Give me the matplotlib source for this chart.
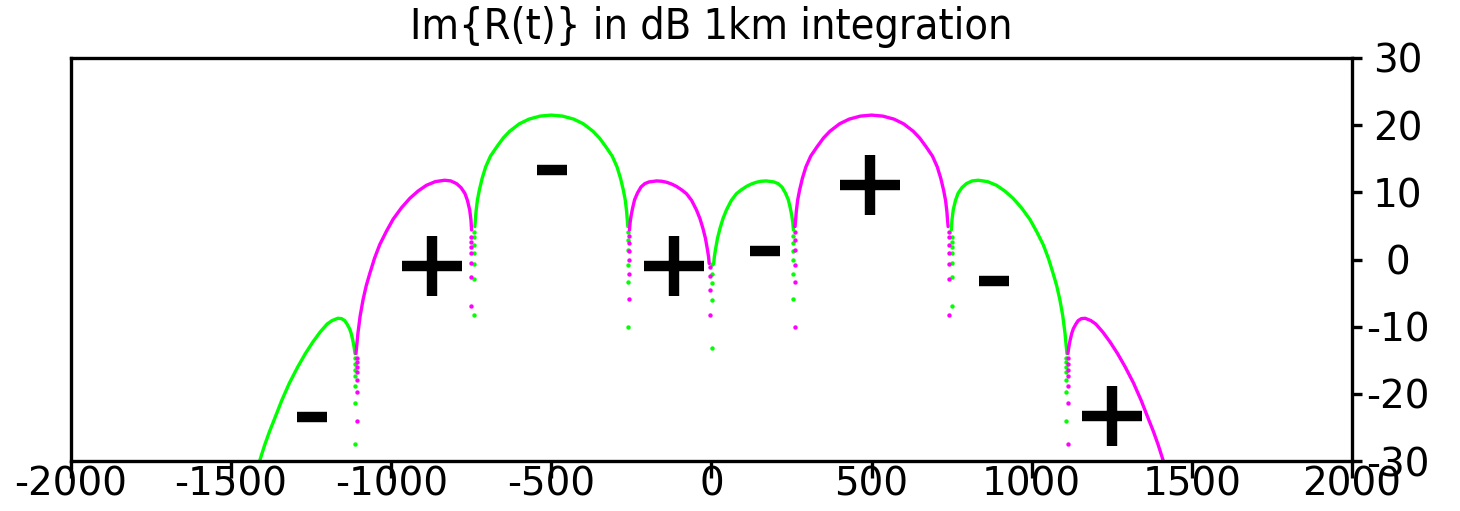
import matplotlib
matplotlib.use("Agg")
import matplotlib.pyplot as plt

plt.rcParams["axes.unicode_minus"] = False

GREEN = "#00ff00"
MAGENTA = "#ff00ff"

# Lobes of the curve (x, dB)
green_lobes = [
    ([-1411, -1395, -1380, -1360, -1342, -1318, -1292, -1268, -1245, -1222, -1200,
      -1185, -1167, -1155, -1145, -1138, -1130, -1125, -1120, -1116, -1113],
     [-30.0, -27.6, -25.6, -23.2, -21.0, -18.4, -16.0, -14.0, -12.3, -10.8, -9.6,
      -9.1, -8.75, -8.8, -9.1, -9.6, -10.3, -11.0, -12.0, -13.0, -14.0]),
    ([-739, -737, -735, -731, -725, -716, -705, -690, -670, -650, -630, -600, -570,
      -535, -500, -465, -430, -400, -370, -350, -330, -310, -295, -284, -275, -269,
      -265, -263, -261],
     [4.9, 6.0, 7.2, 8.8, 10.3, 12.1, 13.8, 15.4, 16.8, 18.1, 19.1, 20.2, 20.9,
      21.35, 21.5, 21.35, 20.9, 20.2, 19.1, 18.1, 16.8, 15.4, 13.8, 12.1, 10.3, 8.8,
      7.2, 6.0, 4.9]),
    ([7, 9, 13, 19, 27, 36, 47, 62, 78, 94, 110, 125, 140, 155, 171, 195, 208, 220,
      231, 240, 246, 251, 254, 256],
     [-0.6, 0.4, 1.6, 3.2, 4.7, 6.1, 7.4, 8.8, 9.8, 10.4, 10.9, 11.25, 11.5, 11.65,
      11.7, 11.55, 11.3, 10.8, 9.9, 8.9, 7.7, 6.5, 5.5, 4.4]),
    ([749, 751, 755, 762, 770, 782, 796, 814, 833, 862, 890, 916, 942, 968, 994,
      1015, 1036, 1052, 1067, 1078, 1088, 1097, 1104, 1107, 1110],
     [4.4, 5.9, 7.4, 8.8, 9.85, 10.7, 11.3, 11.7, 11.8, 11.6, 11.05, 10.2, 9.1, 7.7,
      6.0, 4.2, 2.2, 0.2, -2.1, -3.9, -6.0, -8.4, -11.0, -12.5, -14.0]),
]
magenta_lobes = [
    ([-1110, -1107, -1104, -1097, -1088, -1078, -1067, -1052, -1036, -1015, -994,
      -968, -942, -916, -890, -862, -833, -814, -796, -782, -770, -762, -755, -751,
      -749],
     [-14.0, -12.5, -11.0, -8.4, -6.0, -3.9, -2.1, 0.2, 2.2, 4.2, 6.0, 7.7, 9.1,
      10.2, 11.05, 11.6, 11.8, 11.7, 11.3, 10.7, 9.85, 8.8, 7.4, 5.9, 4.4]),
    ([-256, -254, -251, -246, -240, -231, -220, -208, -195, -171, -155, -140, -125,
      -110, -94, -78, -62, -47, -36, -27, -19, -13, -9, -7],
     [4.4, 5.5, 6.5, 7.7, 8.9, 9.9, 10.8, 11.3, 11.55, 11.7, 11.65, 11.5, 11.25,
      10.9, 10.4, 9.8, 8.8, 7.4, 6.1, 4.7, 3.2, 1.6, 0.4, -0.6]),
    ([261, 263, 265, 269, 275, 284, 295, 310, 330, 350, 370, 400, 430, 465, 500,
      535, 570, 600, 630, 650, 670, 690, 705, 716, 725, 731, 735, 737, 739],
     [4.9, 6.0, 7.2, 8.8, 10.3, 12.1, 13.8, 15.4, 16.8, 18.1, 19.1, 20.2, 20.9,
      21.35, 21.5, 21.35, 20.9, 20.2, 19.1, 18.1, 16.8, 15.4, 13.8, 12.1, 10.3, 8.8,
      7.2, 6.0, 4.9]),
    ([1113, 1116, 1120, 1125, 1130, 1138, 1145, 1155, 1167, 1185, 1200, 1222, 1245,
      1268, 1292, 1318, 1342, 1360, 1380, 1395, 1411],
     [-14.0, -13.0, -12.0, -11.0, -10.3, -9.6, -9.1, -8.8, -8.75, -9.1, -9.6, -10.8,
      -12.3, -14.0, -16.0, -18.4, -21.0, -23.2, -25.6, -27.6, -30.0]),
]

# Sparse samples next to the nulls
green_tail_x = [-1112] * 7 + [-742] * 7 + [-260] * 6 + [3] * 5 + [256] * 6 + [750] * 7 + [1107] * 7
green_tail_y = [-14.7, -15.5, -16.4, -17.4, -18.8, -21.3, -27.5,
                4.1, 3.4, 2.2, 0.9, -0.6, -2.9, -8.3,
                4.1, 2.9, 1.4, -0.8, -3.3, -10.1,
                -0.6, -2.1, -3.5, -6.0, -13.1,
                3.5, 2.4, 1.2, -0.1, -2.1, -5.9,
                3.4, 2.6, 1.9, 0.9, -0.5, -2.6, -6.9,
                -14.6, -15.2, -16.0, -16.7, -17.9, -19.7, -24.0]
magenta_tail_x = [-1107] * 7 + [-750] * 7 + [-256] * 6 + [-3] * 4 + [260] * 6 + [742] * 7 + [1112] * 7
magenta_tail_y = [-14.6, -15.2, -16.0, -16.7, -17.9, -19.7, -24.0,
                  3.4, 2.6, 1.9, 0.9, -0.5, -2.6, -6.9,
                  3.5, 2.4, 1.2, -0.1, -2.1, -5.9,
                  -1.1, -2.5, -4.5, -8.3,
                  4.1, 2.9, 1.4, -0.8, -3.3, -10.1,
                  4.1, 3.4, 2.2, 0.9, -0.6, -2.9, -8.3,
                  -14.7, -15.5, -16.4, -17.4, -18.8, -21.3, -27.5]

# Sign annotations
plus_x = [-874, -118, 496, 1251]
plus_y = [-0.9, -1.0, 11.1, -23.3]
minus_x = [-1247, -497, 166, 882]
minus_y = [-23.5, 13.3, 1.2, -3.2]

xticks = [-2000, -1500, -1000, -500, 0, 500, 1000, 1500, 2000]
yticks = [-30, -20, -10, 0, 10, 20, 30]

fig = plt.figure(figsize=(14.6, 5.11), dpi=100)
ax = fig.add_axes([0.0486, 0.0978, 0.8774, 0.7887])

for xs, ys in green_lobes:
    ax.plot(xs, ys, color=GREEN, lw=2.4, solid_capstyle="round", solid_joinstyle="round")
for xs, ys in magenta_lobes:
    ax.plot(xs, ys, color=MAGENTA, lw=2.4, solid_capstyle="round", solid_joinstyle="round")
ax.scatter(green_tail_x, green_tail_y, s=10, color=GREEN, linewidths=0)
ax.scatter(magenta_tail_x, magenta_tail_y, s=10, color=MAGENTA, linewidths=0)

ax.plot(plus_x, plus_y, ls="none", marker="+", ms=42.5, mew=7.5, color="black")
ax.plot(minus_x, minus_y, ls="none", marker="_", ms=21, mew=7.5, color="black")

ax.set_xlim(-2000, 2000)
ax.set_ylim(-30, 30)
ax.set_xticks(xticks)
ax.set_yticks(yticks)
ax.yaxis.tick_right()
for sp in ax.spines.values():
    sp.set_linewidth(2.4)
ax.tick_params(axis="x", direction="out", length=12, width=2.4, pad=-9,
               labelsize=28, colors="black")
ax.tick_params(axis="y", direction="out", length=7, width=2.4, pad=26,
               labelsize=28, colors="black")
for lab in ax.get_yticklabels():
    lab.set_horizontalalignment("center")

fig.text(711 / 1460, 1 - 27 / 511, "Im{R(t)} in dB 1km integration",
         ha="center", va="center", fontsize=31, fontstretch="condensed")

fig.savefig("out.png", dpi=100)
